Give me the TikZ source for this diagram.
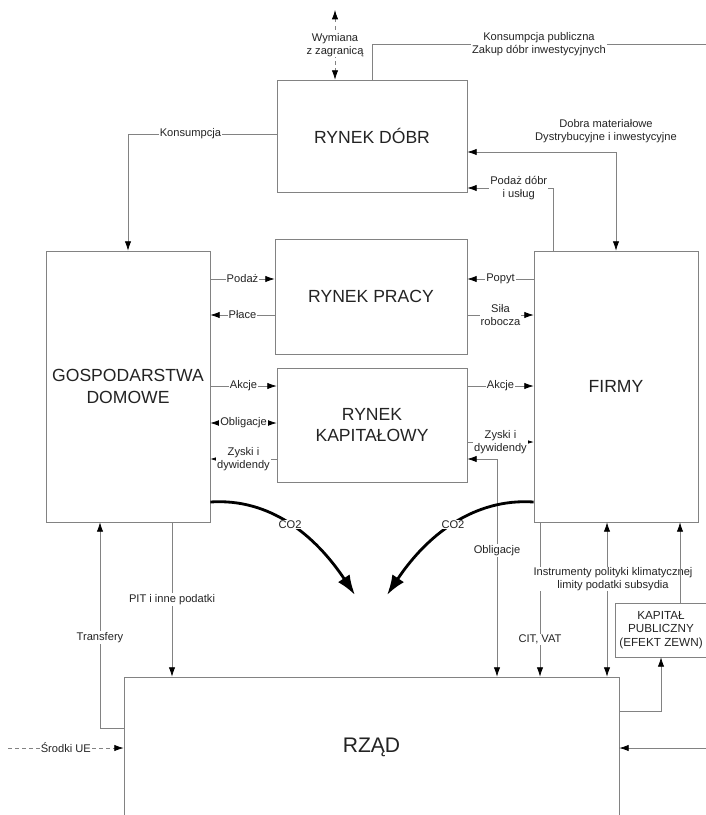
\documentclass[tikz,border=0pt]{standalone}
\usepackage{fontspec}
\setmainfont{Liberation Sans}
\usetikzlibrary{arrows.meta, positioning, calc}
\definecolor{line-gray}{RGB}{130,130,130}
\definecolor{text-gray}{RGB}{35,35,35}

\begin{document}
\begin{tikzpicture}[
    x=0.03cm, y=-0.03cm,
    every node/.style={text=text-gray},
    market/.style={rectangle, draw=line-gray, semithick, align=center, font=\fontsize{15}{18.5}\selectfont},
    lbl/.style={fill=white, inner sep=0.8pt, align=center, font=\fontsize{9.5}{10.8}\selectfont},
    flow/.style={draw=line-gray, semithick},
    arrow/.style={flow, -{Latex[length=2.8mm, width=1.9mm, color=black]}},
    biarrow/.style={flow, {Latex[length=2.8mm, width=1.9mm, color=black]}-{Latex[length=2.8mm, width=1.9mm, color=black]}},
    external/.style={flow, dashed},
    co2/.style={draw=black, line width=2.4pt, -{Latex[length=6mm, width=4.2mm]}}
]
\clip (0,0) rectangle (706,815);

% Rynki
\node[market, minimum width=5.7cm, minimum height=3.36cm] (dobra) at (372,136) {RYNEK DÓBR};
\node[market, minimum width=5.76cm, minimum height=3.45cm] (praca) at (371,296.5) {RYNEK PRACY};
\node[market, minimum width=5.7cm, minimum height=3.42cm] (kapital) at (372,425) {RYNEK\\KAPITAŁOWY};

% Sektory
\node[market, minimum width=4.92cm, minimum height=8.13cm] (gosp) at (128,386.5) {GOSPODARSTWA\\DOMOWE};
\node[market, minimum width=4.92cm, minimum height=8.13cm] (firmy) at (616,386.5) {FIRMY};
\node[market, minimum width=14.85cm, minimum height=4.2cm, font=\fontsize{18}{22}\selectfont] (rzad) at (371.5,747) {RZĄD};
\node[market, minimum width=2.64cm, minimum height=1.62cm, font=\fontsize{10}{11.5}\selectfont] (kpub) at (661,630) {KAPITAŁ\\PUBLICZNY\\(EFEKT ZEWN)};

% Rynek dobr
\coordinate (zagr) at (335,10);
\coordinate (konspub) at (706,44);
\draw[external, {Latex[length=2.8mm, width=1.9mm, color=black]}-{Latex[length=2.8mm, width=1.9mm, color=black]}] (zagr) -- (zagr |- dobra.north);
\node[lbl] (wymiana) at (335,45) {Wymiana\\z zagranicą};
\draw[flow] (dobra.north) |- (konspub) node[lbl, pos=0.75] {Konsumpcja publiczna\\Zakup dóbr inwestycyjnych};
\draw[arrow] (dobra.west |- 0,134) -| (gosp.north) node[lbl, pos=0.29] {Konsumpcja};
\draw[biarrow] (dobra.east |- 0,152) -| (firmy.north);
\node[lbl, fill=none] (dmat) at (606,131) {Dobra materiałowe\\Dystrybucyjne i inwestycyjne};
\draw[arrow] (firmy.north -| 553,0) |- (dobra.east |- 0,188) node[lbl, pos=0.7] {Podaż dóbr\\i usług};

% Rynek pracy
\draw[arrow] (gosp.east |- 0,279) -- (praca.west |- 0,279) node[lbl, midway] {Podaż};
\draw[arrow] (praca.west |- 0,315) -- (gosp.east |- 0,315) node[lbl, midway] {Płace};
\draw[arrow] (firmy.west |- 0,279) -- (praca.east |- 0,279) node[lbl, midway] {Popyt};
\draw[arrow] (praca.east |- 0,315) -- (firmy.west |- 0,315) node[lbl, midway] {Siła\\robocza};

% Rynek kapitalowy
\draw[arrow] (gosp.east |- 0,386) -- (kapital.west |- 0,386) node[lbl, midway] {Akcje};
\draw[biarrow] (gosp.east |- 0,423) -- (kapital.west |- 0,423) node[lbl, midway] {Obligacje};
\draw[arrow] (kapital.west |- 0,459) -- (gosp.east |- 0,459) node[lbl, midway] {Zyski i\\dywidendy};
\draw[arrow] (kapital.east |- 0,386) -- (firmy.west |- 0,386) node[lbl, midway] {Akcje};
\draw[arrow] (kapital.east |- 0,442) -- (firmy.west |- 0,442) node[lbl, midway] {Zyski i\\dywidendy};
\draw[biarrow] (kapital.east |- 0,459) -| (rzad.north -| 497,0) node[lbl, pos=0.71] {Obligacje};

% Emisje
\coordinate (co2-l) at (355,595);
\coordinate (co2-r) at (387,595);
\draw[co2] (gosp.east |- 0,502) .. controls (270,498) and (315,535) .. (co2-l) node[lbl, pos=0.5] {CO2};
\draw[co2] (firmy.west |- 0,502) .. controls (474,498) and (427,535) .. (co2-r) node[lbl, pos=0.5] {CO2};

% Rzad
\coordinate (ue) at (8,748);
\coordinate (prawo) at (706,748);
\draw[arrow] (gosp.south -| 172,0) -- (rzad.north -| 172,0) node[lbl, midway] {PIT i inne podatki};
\draw[arrow] (rzad.west |- 0,728) -| (gosp.south -| 100,0) node[lbl, pos=0.72] {Transfery};
\draw[external, -{Latex[length=2.8mm, width=1.9mm, color=black]}] (ue) -- (rzad.west |- ue) node[lbl, midway] {Środki UE};
\draw[arrow] (firmy.south -| 540,0) -- (rzad.north -| 540,0) node[lbl, pos=0.76] {CIT, VAT};
\draw[biarrow] (firmy.south -| 607,0) -- (rzad.north -| 607,0);
\node[lbl] (instr) at (613,579) {Instrumenty polityki klimatycznej\\limity podatki subsydia};
\draw[arrow] (kpub.north -| 680,0) -- (firmy.south -| 680,0);
\draw[arrow] (rzad.east |- 0,711) -| (kpub.south);
\draw[arrow] (prawo) -- (rzad.east |- prawo);

\end{tikzpicture}
\end{document}
